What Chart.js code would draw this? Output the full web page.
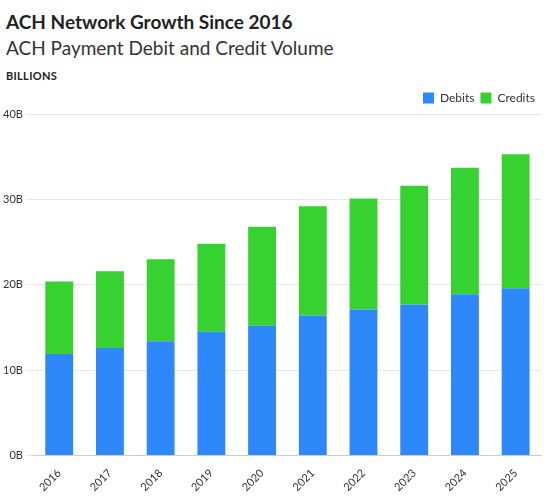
<!DOCTYPE html>
<html>
<head>
<meta charset="utf-8">
<script src="https://cdn.jsdelivr.net/npm/chart.js@4"></script>
<style>
  body { margin: 0; font-family: Lato, "Open Sans", sans-serif; background: #fff; }
  .wrap { width: 553px; height: 497px; position: relative; }
  h1 { margin: 0; position: absolute; left: 6px; top: 10px; font-size: 19px; font-weight: 700; color: #222; }
  h2 { margin: 0; position: absolute; left: 6px; top: 36px; font-size: 19px; font-weight: 400; color: #333; }
  .unit { position: absolute; left: 6px; top: 69px; font-size: 11px; font-weight: 700; color: #222; letter-spacing: 0.3px; }
  .chart { position: absolute; left: 0; top: 86px; width: 553px; height: 411px; }
</style>
</head>
<body>
<div class="wrap">
  <h1>ACH Network Growth Since 2016</h1>
  <h2>ACH Payment Debit and Credit Volume</h2>
  <div class="unit">BILLIONS</div>
  <div class="chart"><canvas id="achChart"></canvas></div>
</div>
<script>
// Data (billions)
const years = ['2016', '2017', '2018', '2019', '2020', '2021', '2022', '2023', '2024', '2025'];
const debits = [11.9, 12.6, 13.4, 14.5, 15.2, 16.4, 17.1, 17.7, 18.9, 19.6];
const credits = [8.5, 9.0, 9.6, 10.3, 11.6, 12.8, 13.0, 13.9, 14.8, 15.7];

Chart.defaults.font.family = 'Lato, "Open Sans", sans-serif';
Chart.defaults.color = '#333';

new Chart(document.getElementById('achChart').getContext('2d'), {
    type: 'bar',
    data: {
        labels: years,
        datasets: [
            { label: 'Debits', data: debits, backgroundColor: '#2F88FA', barPercentage: 0.55, categoryPercentage: 1 },
            { label: 'Credits', data: credits, backgroundColor: '#38D132', barPercentage: 0.55, categoryPercentage: 1 }
        ]
    },
    options: {
        responsive: true,
        maintainAspectRatio: false,
        animation: false,
        layout: { padding: { left: 0, right: 12, top: 0, bottom: 0 } },
        plugins: {
            legend: {
                position: 'top',
                align: 'end',
                labels: { boxWidth: 11, boxHeight: 11, padding: 6, font: { size: 12 } }
            },
            tooltip: { enabled: false }
        },
        scales: {
            x: {
                stacked: true,
                grid: { display: false },
                border: { color: '#ccc' },
                ticks: { maxRotation: 45, minRotation: 45, font: { size: 11 } }
            },
            y: {
                stacked: true,
                min: 0,
                max: 40,
                grid: { color: '#e8e8e8' },
                border: { display: false },
                ticks: { stepSize: 10, font: { size: 11 }, callback: v => v + 'B' }
            }
        }
    }
});
</script>
</body>
</html>
